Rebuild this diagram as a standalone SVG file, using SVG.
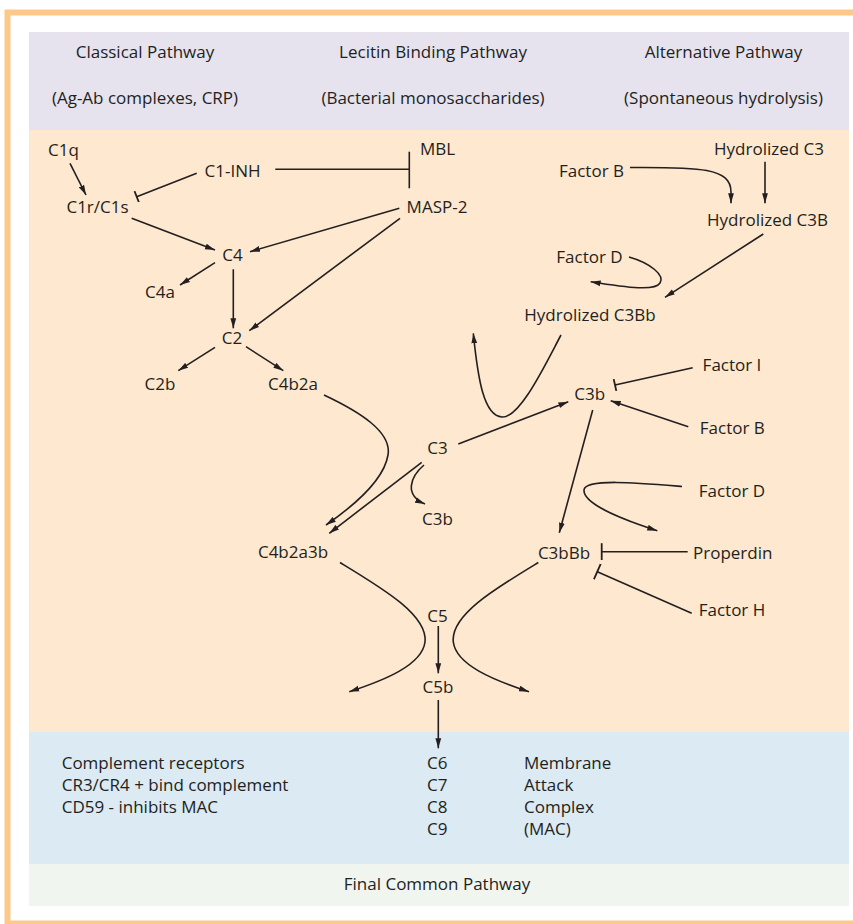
<svg xmlns="http://www.w3.org/2000/svg" width="853" height="924" viewBox="0 0 853 924">
<style>
text{font-family:"Open Sans","Noto Sans","Liberation Sans",sans-serif;font-size:17px;fill:#231f20}
.m{text-anchor:middle}
.c{fill:none;stroke:#231f20;stroke-width:1.6}
.a{marker-end:url(#arr)}
.t{marker-end:url(#tee)}
.tl{marker-end:url(#teeL)}
</style>
<defs>
<marker id="arr" markerWidth="11" markerHeight="7" refX="10" refY="3.5" orient="auto" markerUnits="userSpaceOnUse"><path d="M0,0.6 L10,3.5 L0,6.4 z" fill="#231f20"/></marker>
<marker id="tee" markerWidth="4" markerHeight="12" refX="2" refY="6" orient="auto" markerUnits="userSpaceOnUse"><line x1="2" y1="0" x2="2" y2="12" stroke="#231f20" stroke-width="1.8"/></marker>
<marker id="teeL" markerWidth="4" markerHeight="17" refX="2" refY="8.5" orient="auto" markerUnits="userSpaceOnUse"><line x1="2" y1="0" x2="2" y2="17" stroke="#231f20" stroke-width="1.8"/></marker>
</defs>
<rect x="0" y="0" width="853" height="924" fill="#ffffff"/>
<rect x="7.5" y="12.5" width="900" height="911" fill="none" stroke="#fdc98a" stroke-width="6"/>
<rect x="29" y="32" width="820" height="98" fill="#e6e3ef"/>
<rect x="29" y="130" width="820" height="602" fill="#fee8cf"/>
<rect x="29" y="732" width="820" height="132" fill="#dbeaf3"/>
<rect x="29" y="864" width="820" height="42" fill="#f1f5f0"/>

<g id="headers">
<text class="m" x="145" y="58">Classical Pathway</text>
<text class="m" x="145" y="103.5">(Ag-Ab complexes, CRP)</text>
<text class="m" x="433" y="58">Lecitin Binding Pathway</text>
<text class="m" x="433" y="103.5">(Bacterial monosaccharides)</text>
<text class="m" x="723.5" y="58">Alternative Pathway</text>
<text class="m" x="723.5" y="103.5">(Spontaneous hydrolysis)</text>
</g>

<g id="connectors">
<line class="c a" x1="70" y1="163.3" x2="86" y2="195"/>
<line class="c t" x1="196.7" y1="173.3" x2="136.7" y2="196.7"/>
<line class="c" x1="275.3" y1="169.3" x2="409.3" y2="169.3"/>
<line class="c" x1="409.3" y1="151.7" x2="409.3" y2="188.3" stroke-width="1.8"/>
<line class="c a" x1="131.7" y1="218.3" x2="215" y2="250"/>
<line class="c a" x1="399.3" y1="208.3" x2="250" y2="251.7"/>
<line class="c a" x1="400" y1="218.3" x2="249.3" y2="330.7"/>
<line class="c a" x1="215" y1="262.7" x2="180" y2="285"/>
<line class="c a" x1="233.3" y1="269.3" x2="233.3" y2="328.3"/>
<line class="c a" x1="215" y1="347.3" x2="178.3" y2="370.7"/>
<line class="c a" x1="246" y1="346.7" x2="283.3" y2="370.7"/>
<path class="c a" d="M324,395 C360,412 392,432 388,455 C384,480 352,507 326,525"/>
<line class="c a" x1="421.7" y1="462.3" x2="329.3" y2="533.3"/>
<path class="c a" d="M424,465 C410,477 404,495 425,504"/>
<path class="c a" d="M340,562.5 C382,588 428,615 425,642 C422,665 385,680 349.3,691.7"/>
<path class="c a" d="M538.3,562.5 C496.3,588 450.3,615 453.3,642 C456.3,665 493.3,680 529,691.7"/>
<line class="c a" x1="438.3" y1="626" x2="438.3" y2="673.3"/>
<line class="c a" x1="438.3" y1="700" x2="438.3" y2="748.3"/>
<path class="c a" d="M630,167.5 C700,167 731,168 731,192 L731,203.3"/>
<line class="c a" x1="765" y1="161.7" x2="765" y2="203.3"/>
<line class="c a" x1="763.3" y1="234" x2="665" y2="297.3"/>
<path class="c a" d="M629,257 C650,263 665,275 660,283 C655,291 630,288 590.7,281.7"/>
<path class="c a" d="M561,335 C545,365 520,418 502,417 C484,416 478,380 473.3,333.3"/>
<line class="c a" x1="458.3" y1="444" x2="568.3" y2="401.7"/>
<line class="c t" x1="692.7" y1="367.7" x2="615" y2="385"/>
<line class="c a" x1="688.3" y1="426.7" x2="610.7" y2="400.7"/>
<line class="c a" x1="592.7" y1="410" x2="559.3" y2="532.7"/>
<path class="c a" d="M682,486.5 C640,483 585,478 584,490 C583,505 630,522 657.3,530.7"/>
<line class="c tl" x1="687.7" y1="551.7" x2="601.7" y2="551.7"/>
<line class="c tl" x1="691.7" y1="613.3" x2="597.3" y2="571.7"/>
</g>

<g id="node-c1q"><text class="m" x="63.5" y="156">C1q</text></g>
<g id="node-c1inh"><text class="m" x="232.5" y="176.7">C1-INH</text></g>
<g id="node-c1rc1s"><text class="m" x="97.5" y="213">C1r/C1s</text></g>
<g id="node-mbl"><text class="m" x="437.5" y="155">MBL</text></g>
<g id="node-masp2"><text class="m" x="437" y="213">MASP-2</text></g>
<g id="node-c4"><text class="m" x="232.5" y="261">C4</text></g>
<g id="node-c4a"><text class="m" x="160" y="297.7">C4a</text></g>
<g id="node-c2"><text class="m" x="232" y="344">C2</text></g>
<g id="node-c2b"><text class="m" x="160" y="390">C2b</text></g>
<g id="node-c4b2a"><text class="m" x="293" y="390">C4b2a</text></g>
<g id="node-c3"><text class="m" x="437.5" y="454">C3</text></g>
<g id="node-c3b-low"><text class="m" x="437.5" y="525">C3b</text></g>
<g id="node-c4b2a3b"><text class="m" x="293" y="558.3">C4b2a3b</text></g>
<g id="node-factorb1"><text class="m" x="591.5" y="176.7">Factor B</text></g>
<g id="node-hc3"><text class="m" x="769" y="155">Hydrolized C3</text></g>
<g id="node-hc3b"><text class="m" x="767.5" y="225.7">Hydrolized C3B</text></g>
<g id="node-factord1"><text class="m" x="589.5" y="263.3">Factor D</text></g>
<g id="node-hc3bb"><text class="m" x="590" y="320.7">Hydrolized C3Bb</text></g>
<g id="node-factori"><text class="m" x="732" y="371">Factor I</text></g>
<g id="node-c3b"><text class="m" x="589.7" y="400">C3b</text></g>
<g id="node-factorb2"><text class="m" x="732.3" y="434">Factor B</text></g>
<g id="node-factord2"><text class="m" x="732" y="497.3">Factor D</text></g>
<g id="node-c3bbb"><text class="m" x="564" y="559">C3bBb</text></g>
<g id="node-properdin"><text class="m" x="732.7" y="559">Properdin</text></g>
<g id="node-factorh"><text class="m" x="732" y="616">Factor H</text></g>
<g id="node-c5"><text class="m" x="437.5" y="621.7">C5</text></g>
<g id="node-c5b"><text class="m" x="438" y="692.5">C5b</text></g>
<g id="node-mac">
<text class="m" x="437.3" y="769">C6</text>
<text class="m" x="437.3" y="791">C7</text>
<text class="m" x="437.3" y="813">C8</text>
<text class="m" x="437.3" y="835">C9</text>
<text x="524" y="769">Membrane</text>
<text x="524" y="791">Attack</text>
<text x="524" y="813">Complex</text>
<text x="524" y="835">(MAC)</text>
</g>
<g id="node-receptors">
<text x="61.7" y="769">Complement receptors</text>
<text x="61.7" y="791">CR3/CR4 + bind complement</text>
<text x="61.7" y="813">CD59 - inhibits MAC</text>
</g>
<g id="footer"><text class="m" x="437" y="890">Final Common Pathway</text></g>
</svg>
